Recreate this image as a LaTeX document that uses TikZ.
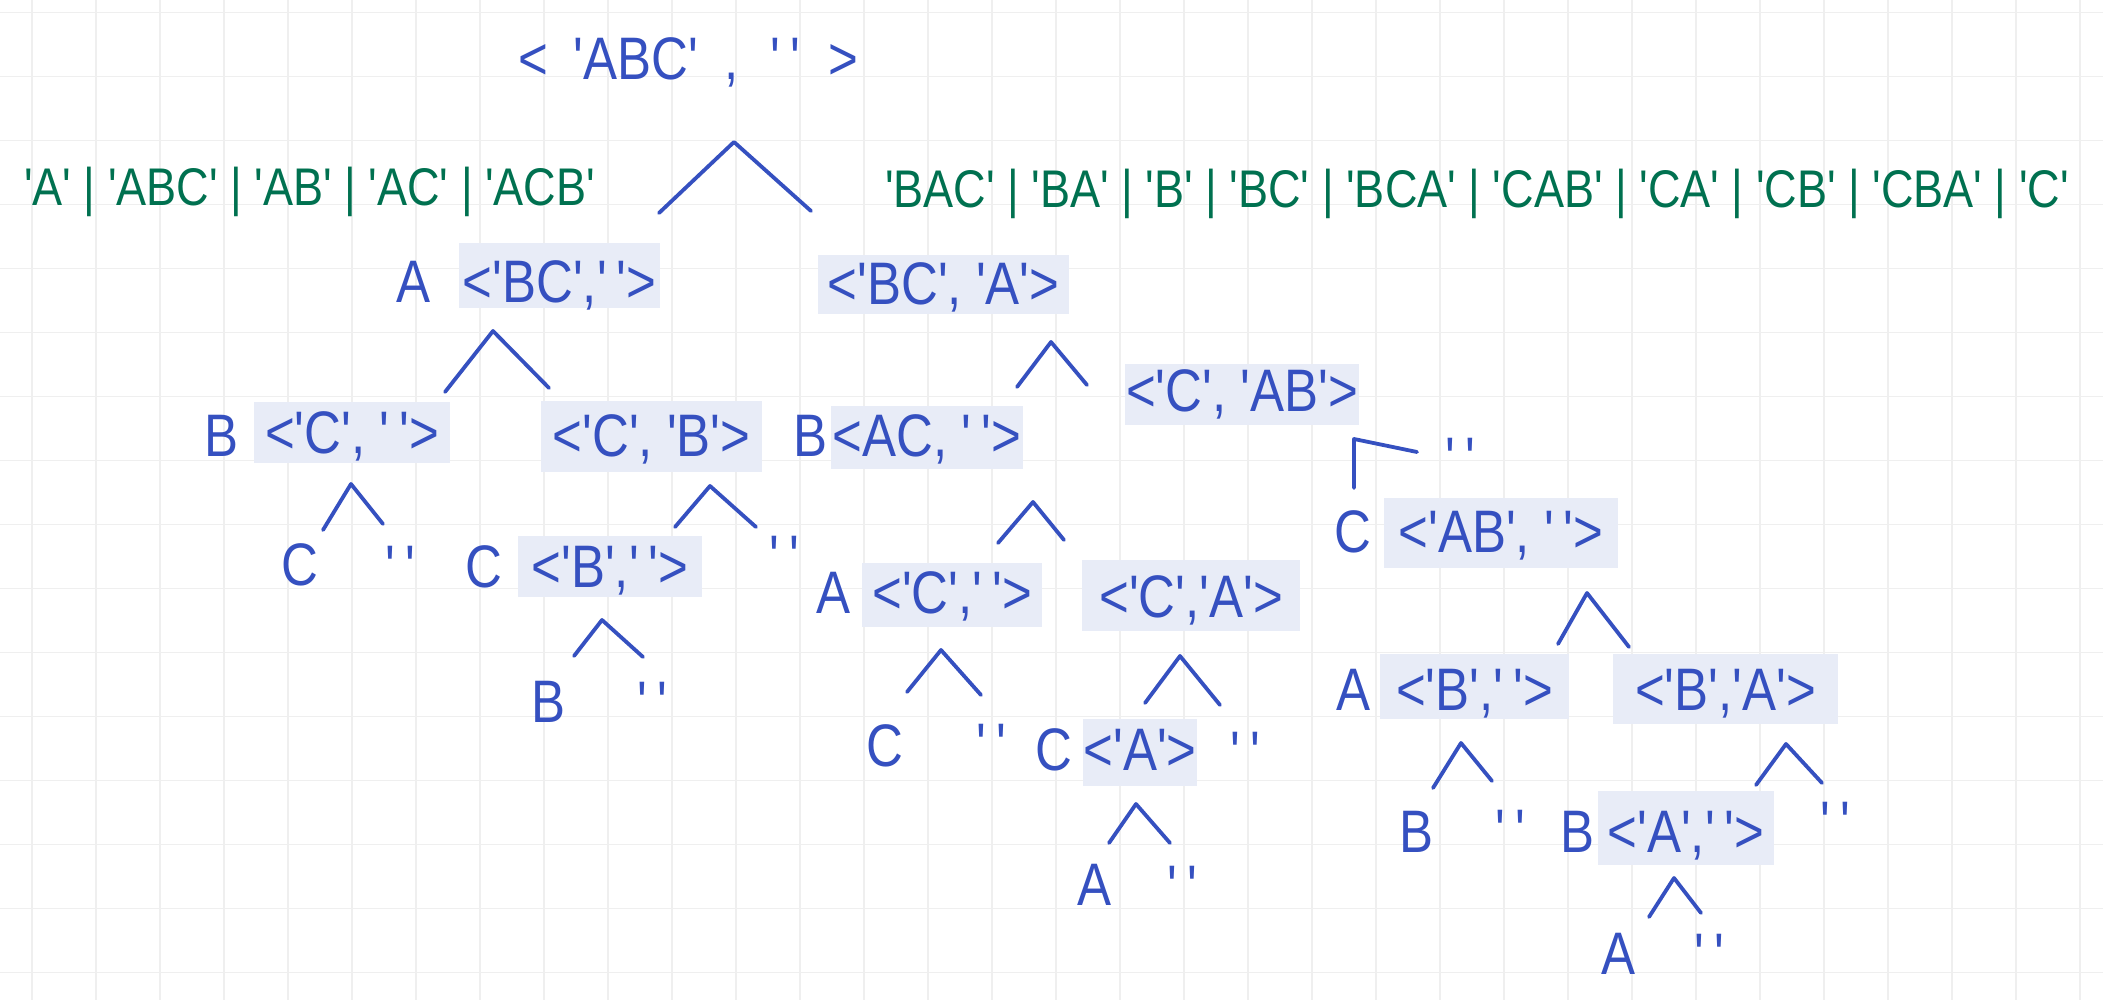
\documentclass[tikz,border=0pt]{standalone}
\usepackage{fontspec}
\newfontfamily\hand{Liberation Sans}[FakeStretch=0.85]
\definecolor{ink}{HTML}{3550C0}
\definecolor{grn}{HTML}{007150}
\definecolor{boxfill}{HTML}{E8ECF7}
\definecolor{gridc}{HTML}{EFEFEF}
\newcommand\qq{'\kern10pt'}
\newcommand\mybox[5]{\node[bx, minimum width={(#4-#2)*1pt}, minimum height={(#5-#3)*1pt}] (#1) at ({(#2+#4)/2},{(#3+#5)/2}) {};}
\newcommand\mycaret[7]{\coordinate (#1l) at (#2,#3); \coordinate (#1a) at (#4,#5); \coordinate (#1r) at (#6,#7); \draw[br] (#1l) -- (#1a) -- (#1r);}
\begin{document}
\begin{tikzpicture}[x=1pt,y=-1pt,
  tx/.style={font=\hand\fontsize{60}{64}\selectfont, text=ink, inner sep=0pt, anchor=base},
  gtx/.style={font=\hand\fontsize{53}{58}\selectfont, text=grn, inner sep=0pt, anchor=base west},
  bx/.style={fill=boxfill, inner sep=0pt, draw=none},
  br/.style={draw=ink, line width=3.8pt, line cap=round, line join=round},
  gridline/.style={draw=gridc, line width=1.5pt}]
\useasboundingbox[fill=white] (0,0) rectangle (2103,1000);
% grid
\foreach \i in {0,...,32} \draw[gridline] ({32+64*\i},0) -- ({32+64*\i},1000);
\foreach \j in {0,...,15} \draw[gridline] (0,{12.7+64*\j}) -- (2103,{12.7+64*\j});
% boxes
\mybox{b1}{459}{243}{660}{308}
\mybox{b2}{818}{255}{1069}{314}
\mybox{b3}{254}{402}{450}{463}
\mybox{b4}{541}{401}{762}{472}
\mybox{b5}{831}{406}{1023}{469}
\mybox{b6}{1125}{364}{1359}{425}
\mybox{b7}{518}{536}{702}{597}
\mybox{b8}{862}{563}{1042}{627}
\mybox{b9}{1082}{560}{1300}{631}
\mybox{b10}{1384}{498}{1618}{568}
\mybox{b11}{1083}{719}{1197}{786}
\mybox{b12}{1380}{654}{1569}{719}
\mybox{b13}{1613}{654}{1838}{724}
\mybox{b14}{1598}{791}{1774}{865}
% root and result lists
\node[tx] (root) at (688,80) {<\hspace{26pt}'ABC'\hspace{26pt},\hspace{32pt}\qq\hspace{28pt}>};
\node[gtx] (gl) at (24,206) {'A' | 'ABC' | 'AB' | 'AC' | 'ACB'};
\node[gtx] (gr) at (885,208) {'BAC' | 'BA' | 'B' | 'BC' | 'BCA' | 'CAB' | 'CA' | 'CB' | 'CBA' | 'C'};
% texts in boxes
\node[tx] (t1) at (559.5,302) {<'BC',\qq>};
\node[tx] (t2) at (943.5,305) {<'BC', 'A'>};
\node[tx] (t3) at (352,453) {<'C', \qq>};
\node[tx] (t4) at (651.5,456) {<'C', 'B'>};
\node[tx] (t5) at (927,456) {<AC, \qq>};
\node[tx] (t6) at (1242,411) {<'C', 'AB'>};
\node[tx] (t7) at (610,587) {<'B',\qq>};
\node[tx] (t8) at (952,613) {<'C',\qq>};
\node[tx] (t9) at (1191,617) {<'C','A'>};
\node[tx] (t10) at (1501,552) {<'AB', \qq>};
\node[tx] (t11) at (1140,770) {<'A'>};
\node[tx] (t12) at (1474.5,710) {<'B',\qq>};
\node[tx] (t13) at (1725.5,710) {<'B','A'>};
\node[tx] (t14) at (1686,852) {<'A',\qq>};
% prefix letters
\node[tx] (p1) at (414,302) {A};
\node[tx] (p3) at (222,456) {B};
\node[tx] (p5) at (810,456) {B};
\node[tx] (p7) at (484,587) {C};
\node[tx] (p8) at (833,613) {A};
\node[tx] (p10) at (1353,552) {C};
\node[tx] (p11) at (1054,770) {C};
\node[tx] (p12) at (1353,710) {A};
\node[tx] (p14) at (1577,852) {B};
% leaves
\node[tx] (l1) at (300,585) {C};
\node[tx] (e1) at (400,587) {\qq};
\node[tx] (e2) at (784,577) {\qq};
\node[tx] (l3) at (549,722) {B};
\node[tx] (e3) at (652,723) {\qq};
\node[tx] (e4) at (1460,479) {\qq};
\node[tx] (l5) at (885,766) {C};
\node[tx] (e5) at (991,765) {\qq};
\node[tx] (e6) at (1245,773) {\qq};
\node[tx] (l7) at (1094,905) {A};
\node[tx] (e7) at (1182,907) {\qq};
\node[tx] (l8) at (1416,852) {B};
\node[tx] (e8) at (1510,851) {\qq};
\node[tx] (e9) at (1835,843) {\qq};
\node[tx] (l10) at (1618,974) {A};
\node[tx] (e10) at (1709,975) {\qq};
% carets
\mycaret{c0}{659}{213}{734}{142}{811}{211}
\mycaret{c1}{445}{392}{493}{331}{549}{388}
\mycaret{c2}{1017}{387}{1051}{342}{1087}{385}
\mycaret{c3}{323}{530}{351}{484}{383}{524}
\mycaret{c4}{675}{527}{710}{486}{756}{527}
\mycaret{c5}{998}{543}{1033}{502}{1064}{540}
\mycaret{c6}{1354}{488}{1354}{439}{1417}{452}
\mycaret{c7}{574}{656}{602}{620}{643}{657}
\mycaret{c8}{907}{692}{941}{650}{981}{695}
\mycaret{c9}{1145}{703}{1180}{656}{1220}{705}
\mycaret{c10}{1558}{644}{1587}{593}{1629}{647}
\mycaret{c11}{1109}{843}{1136}{804}{1170}{843}
\mycaret{c12}{1433}{788}{1461}{743}{1492}{781}
\mycaret{c13}{1756}{785}{1786}{744}{1822}{783}
\mycaret{c14}{1649}{917}{1674}{878}{1701}{913}
\end{tikzpicture}
\end{document}
